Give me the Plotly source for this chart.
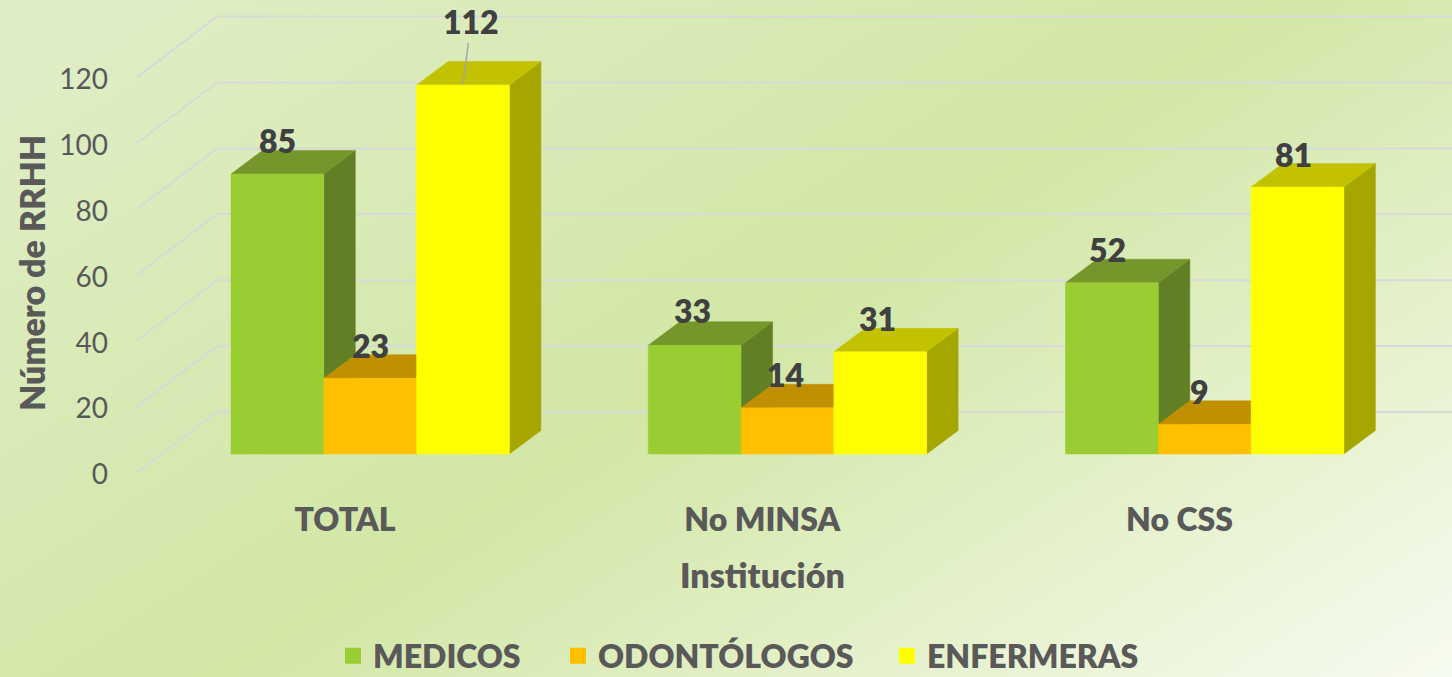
import base64
import plotly.graph_objects as go

categories = ["TOTAL", "No MINSA", "No CSS"]
series_names = ["MEDICOS", "ODONTÓLOGOS", "ENFERMERAS"]
medicos = [85, 33, 52]
odontologos = [23, 14, 9]
enfermeras = [112, 31, 81]
y_ticks = [0, 20, 40, 60, 80, 100, 120]

W, H = 1452, 677
PX_X = 417.25      # pixels per category
PX_Y = 3.295       # pixels per value unit
X0_PX, Y0_PX = 345.0, 454.0
BAR_W = 92.8 / PX_X
GROUP_SHIFT = -114.0 / PX_X  # left edge of first bar relative to the category label
DX, DY = 31.5 / PX_X, 23.5 / PX_Y       # bar depth
WALL_DX, WALL_DY = (217 - 137) / PX_X, 60.5 / PX_Y
FLOOR_DY = 18.5 / PX_Y   # front of the side wall sits below the bar base
TICK_PX_OFFSET = 20.5

faces = [
    ("#9ACD32", "#74962A", "#617F25"),
    ("#FFC000", "#C09000", "#A07800"),
    ("#FFFF00", "#C2C200", "#A6A600"),
]
values = [medicos, odontologos, enfermeras]
TEXT_GREY = "#595959"
LABEL_GREY = "#404040"
FONT = "Lato"

xr = [(0 - X0_PX) / PX_X, (W - X0_PX) / PX_X]
yr = [(Y0_PX - H) / PX_Y, Y0_PX / PX_Y]

fig = go.Figure()

# walls / gridlines
gx, gy = [], []
left_front = xr[0] + 137 / PX_X
left_back = left_front + WALL_DX
for t in y_ticks:
    gx += [left_front, left_back, xr[1], None]
    gy += [t - FLOOR_DY, t - FLOOR_DY + WALL_DY, t - FLOOR_DY + WALL_DY, None]
fig.add_trace(go.Scatter(x=gx, y=gy, mode="lines", line=dict(color="#D9D9D9", width=2),
                         hoverinfo="skip", showlegend=False))

# oblique bars: side, top, front of every series, left to right
for s, (vals, cols) in enumerate(zip(values, faces)):
    sx, sy, tx, ty, fx, fy = [], [], [], [], [], []
    for i, v in enumerate(vals):
        a = i + GROUP_SHIFT + s * BAR_W
        b = a + BAR_W
        sx += [b, b + DX, b + DX, b, b, None]
        sy += [0, DY, v + DY, v, 0, None]
        tx += [a, b, b + DX, a + DX, a, None]
        ty += [v, v, v + DY, v + DY, v, None]
        fx += [a, b, b, a, a, None]
        fy += [0, 0, v, v, 0, None]
    for px, py, col, nm in ((sx, sy, cols[2], "side"), (tx, ty, cols[1], "top"), (fx, fy, cols[0], "front")):
        fig.add_trace(go.Scatter(x=px, y=py, mode="lines", fill="toself", fillcolor=col,
                                 line=dict(color=col, width=0.5), hoverinfo="skip",
                                 showlegend=False, name=f"{series_names[s]} {nm}"))

# legend entries
legend_x = [333, 558, 887]
for s, nm in enumerate(series_names):
    key = "legend" if s == 0 else f"legend{s + 1}"
    fig.add_trace(go.Scatter(x=[None], y=[None], mode="markers", name=nm, legend=key,
                             marker=dict(symbol="square", size=16, color=faces[s][0])))

# keeps the tick axis alive
fig.add_trace(go.Scatter(x=[None], y=[None], yaxis="y2", showlegend=False, hoverinfo="skip"))

# data labels
annotations = []
label_nudge = {(0, 2): (7, 63), (1, 0): (-2, 35), (1, 1): (-2, 33), (1, 2): (-3, 33),
               (2, 0): (-4, 33), (2, 1): (-5, 33), (2, 2): (-4, 33)}
label_font = dict(family=FONT, size=32, color=LABEL_GREY, weight=800)
for s, vals in enumerate(values):
    for i, v in enumerate(vals):
        cx = i + GROUP_SHIFT + (s + 0.5) * BAR_W
        nx, ny = label_nudge.get((i, s), (0, 33))
        if (i, s) == (0, 2):
            annotations.append(dict(x=cx, y=v, xref="x", yref="y", text=str(v), showarrow=True,
                                    ax=nx + 1, ay=-ny, arrowhead=0, arrowwidth=1.5, arrowcolor="#A6A6A6",
                                    font=label_font))
        else:
            annotations.append(dict(x=cx, y=v, xref="x", yref="y", text=str(v), showarrow=False,
                                    xshift=nx, yshift=ny, font=label_font))

title_font = dict(family=FONT, size=34, color=TEXT_GREY, weight=800)
annotations.append(dict(x=762 / W, y=1 - 574 / H, xref="paper", yref="paper", text="Institución",
                        xanchor="center", yanchor="middle", showarrow=False, font=title_font))
annotations.append(dict(x=31 / W, y=1 - 273 / H, xref="paper", yref="paper", text="Número de RRHH",
                        xanchor="center", yanchor="middle", textangle=-90, showarrow=False,
                        font=title_font))

svg = f"""<svg xmlns="http://www.w3.org/2000/svg" width="{W}" height="{H}">
<defs><linearGradient id="g" gradientUnits="userSpaceOnUse" x1="0" y1="0" x2="726" y2="1140">
<stop offset="0" stop-color="#E0EEC8"/><stop offset="0.51" stop-color="#D2E7A6"/>
<stop offset="1" stop-color="#F7FBF0"/></linearGradient></defs>
<rect width="{W}" height="{H}" fill="url(#g)"/></svg>"""
bg = "data:image/svg+xml;base64," + base64.b64encode(svg.encode()).decode()

legend_common = dict(orientation="h", yanchor="middle", xanchor="left", y=1 - 656 / H,
                     bgcolor="rgba(0,0,0,0)", borderwidth=0,
                     font=dict(family=FONT, size=32, color=TEXT_GREY, weight=800))

fig.update_layout(
    width=W, height=H, margin=dict(l=0, r=0, t=0, b=0, autoexpand=False),
    paper_bgcolor="#DDEBBD", plot_bgcolor="rgba(0,0,0,0)",
    images=[dict(source=bg, xref="paper", yref="paper", x=0, y=1, sizex=1, sizey=1,
                 xanchor="left", yanchor="top", sizing="stretch", layer="below")],
    xaxis=dict(range=xr, anchor="free", position=1 - 498 / H, tickmode="array", tickvals=[0, 1, 2],
               ticktext=categories, ticks="", showgrid=False, zeroline=False, showline=False,
               tickfont=dict(family=FONT, size=32, color=TEXT_GREY, weight=800)),
    yaxis=dict(range=yr, visible=False),
    yaxis2=dict(range=[yr[0] + TICK_PX_OFFSET / PX_Y, yr[1] + TICK_PX_OFFSET / PX_Y],
                overlaying="y", anchor="free", position=108 / W, side="left",
                tickmode="array", tickvals=y_ticks, ticks="", showgrid=False, zeroline=False,
                showline=False, tickfont=dict(family=FONT, size=28, color=TEXT_GREY)),
    legend=dict(x=legend_x[0] / W, **legend_common),
    legend2=dict(x=legend_x[1] / W, **legend_common),
    legend3=dict(x=legend_x[2] / W, **legend_common),
    annotations=annotations,
    showlegend=True,
)

fig.write_html("out.html", config={"displayModeBar": False},
               post_script="document.body.style.margin='0';document.body.style.overflow='hidden';")
